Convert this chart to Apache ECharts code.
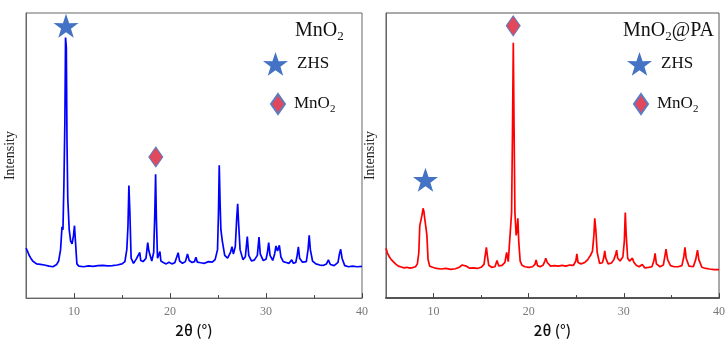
<!DOCTYPE html>
<html>
<head>
<meta charset="utf-8">
<script src="https://cdn.jsdelivr.net/npm/echarts@6/dist/echarts.min.js"></script>
<style>
html,body{margin:0;padding:0;background:#fff;}
#chart{width:728px;height:343px;}
</style>
</head>
<body>
<div id="chart"></div>
<script>
// ---- Data ----
// Left panel: MnO2 (blue)
const mno2Theta = [5.0,5.15,5.3,5.5,5.7,5.9,6.1,6.3,6.5,6.7,6.9,7.0,7.1,7.4,7.6,7.8,8.0,8.2,8.4,8.6,8.75,8.85,8.95,9.05,9.12,9.2,9.27,9.35,9.5,9.65,9.8,9.95,10.05,10.15,10.3,10.5,11.0,11.5,12.0,12.5,13.0,13.5,14.0,14.5,15.0,15.3,15.5,15.62,15.72,15.82,15.95,16.2,16.45,16.55,16.65,16.85,16.95,17.2,17.5,17.68,17.8,17.92,18.1,18.3,18.42,18.5,18.58,18.7,18.85,18.95,19.05,19.3,19.6,19.9,20.2,20.5,20.7,20.85,21.0,21.3,21.6,21.82,22.0,22.3,22.55,22.7,22.85,23.2,23.6,24.0,24.4,24.7,24.95,25.05,25.13,25.22,25.3,25.45,25.7,26.0,26.3,26.46,26.6,26.8,26.95,27.05,27.15,27.3,27.6,27.85,28.05,28.2,28.5,28.8,29.1,29.27,29.4,29.7,30.0,30.15,30.28,30.42,30.7,30.9,31.04,31.2,31.39,31.55,31.8,32.1,32.4,32.68,32.85,33.1,33.25,33.37,33.5,33.8,34.2,34.38,34.5,34.62,34.85,35.2,35.6,36.0,36.3,36.5,36.7,37.1,37.5,37.65,37.78,37.92,38.2,38.6,39.0,39.5,40.0];
const mno2Intensity = [17.5,16.5,15.2,14.0,13.0,12.4,12.0,11.5,11.8,11.2,11.6,12.3,11.4,11.2,11.6,11.0,11.4,11.8,13.0,17.0,25.0,24.0,40.0,62.0,91.4,88.0,55.0,35.0,24.0,20.0,19.0,22.0,25.4,20.0,12.0,11.2,11.0,11.3,11.1,11.4,11.5,11.3,11.4,11.6,12.0,12.8,17.0,25.0,39.5,30.0,14.0,12.2,13.5,14.2,12.8,16.0,13.2,12.8,14.0,19.5,16.5,17.0,13.0,16.0,30.0,43.4,28.0,14.0,14.5,16.3,13.0,12.5,12.0,12.6,12.0,12.4,13.0,15.9,13.0,12.2,12.8,15.5,13.2,12.5,12.8,14.3,12.6,12.4,12.2,12.8,12.6,13.5,17.0,30.0,46.6,33.0,24.0,20.0,15.0,14.0,16.0,18.0,15.5,18.0,28.0,33.1,26.0,17.0,13.5,14.5,21.6,15.0,13.0,13.4,15.0,21.4,15.5,13.2,13.6,16.0,19.5,15.0,13.2,15.5,18.3,16.5,18.5,14.5,12.8,12.5,12.2,13.4,12.2,12.5,15.0,18.0,14.0,12.6,12.8,17.0,22.0,17.0,13.0,12.0,11.6,11.5,12.0,13.4,11.8,11.4,12.5,15.5,17.1,14.0,11.4,11.0,11.2,11.0,11.1];

// Right panel: MnO2@PA (red)
const paTheta = [5.0,5.15,5.35,5.55,5.75,6.0,6.3,6.6,6.9,7.2,7.5,7.8,8.1,8.3,8.45,8.55,8.65,8.78,8.9,8.98,9.05,9.2,9.3,9.42,9.6,9.9,10.3,10.8,11.3,11.8,12.3,12.7,13.0,13.2,13.45,13.8,14.2,14.6,15.0,15.3,15.45,15.55,15.65,15.8,16.1,16.45,16.67,16.85,17.2,17.5,17.68,17.85,18.05,18.2,18.3,18.38,18.46,18.55,18.68,18.78,18.86,18.95,19.1,19.3,19.6,20.0,20.4,20.65,20.78,20.92,21.2,21.5,21.7,21.79,21.95,22.3,22.7,23.1,23.5,23.9,24.3,24.7,24.95,25.06,25.18,25.5,25.9,26.2,26.5,26.7,26.85,26.94,27.05,27.2,27.45,27.75,27.9,27.99,28.1,28.35,28.7,28.95,29.15,29.24,29.35,29.6,29.9,30.05,30.15,30.25,30.4,30.6,30.8,30.9,31.05,31.3,31.6,31.93,32.2,32.6,32.95,33.15,33.28,33.42,33.8,34.15,34.3,34.43,34.6,34.9,35.3,35.7,36.1,36.3,36.42,36.55,36.85,37.3,37.55,37.74,37.88,38.2,38.6,39.0,39.5,40.0];
const paIntensity = [17.5,15.8,14.5,13.5,12.8,12.0,11.2,10.9,10.6,10.8,10.5,10.7,11.0,12.0,16.0,25.4,26.0,29.0,31.5,30.5,28.5,28.5,22.0,13.5,11.2,10.8,10.4,10.2,10.4,10.1,10.3,10.8,11.6,12.0,11.2,10.5,10.6,10.4,10.8,11.8,15.5,17.8,15.0,11.5,10.8,11.0,13.2,11.3,11.5,12.5,16.0,12.8,13.5,30.0,60.0,89.6,60.0,30.0,22.0,24.0,28.0,20.0,13.0,11.5,11.0,10.8,11.0,11.8,13.4,11.4,11.0,11.5,13.0,14.0,12.5,11.2,11.4,11.2,11.5,11.2,11.6,11.5,13.0,15.5,12.5,12.0,12.5,13.5,15.0,16.5,22.0,28.0,24.0,16.0,12.2,12.4,14.5,16.6,14.0,12.0,12.3,13.5,15.5,16.8,14.0,13.0,14.5,20.0,30.0,22.0,14.0,13.0,13.2,14.0,12.6,11.5,11.0,11.8,10.6,10.8,11.0,13.0,15.7,12.0,11.0,11.6,14.5,17.2,13.5,11.4,11.0,11.0,11.4,14.5,17.8,14.0,11.2,11.0,13.5,16.8,13.5,10.8,10.4,10.2,10.0,10.0];

// Phase markers [2θ, intensity position]
const zhsMarkLeft = [9.17, 95.5];
const mno2MarkLeft = [18.52, 49.5];
const zhsMarkRight = [9.15, 41.5];
const mno2MarkRight = [18.37, 95.5];

// Axis ticks
const xMin = 5, xMax = 40;
const majorTicks = [10, 20, 30, 40];
const minorTicks = [15, 25, 35];

// ---- Styling ----
const starPath = 'path://M50,0 L61.8,35.1 L97.6,34.5 L68.8,56 L79.4,90.5 L50,69.8 L20.6,90.5 L31.2,56 L2.4,34.5 L38.2,35.1 Z';
const starColor = '#4472C4';
const diamondColor = '#E2485C';
const diamondBorder = '#5B7DBF';
const serif = '"Liberation Serif", "Times New Roman", serif';

const zip = (a, b) => a.map((v, i) => [v, b[i]]);

const chart = echarts.init(document.getElementById('chart'), null, {renderer: 'canvas'});

function xAxisPair(gridIndex, lineWidth, lineColor) {
  return [
    {
      type: 'value', gridIndex, min: xMin, max: xMax, interval: 5, position: 'bottom',
      name: '2θ (°)', nameLocation: 'middle', nameGap: 20,
      nameTextStyle: {fontFamily: '"Noto Sans CJK SC", sans-serif', fontSize: 15, color: '#111', fontWeight: 500},
      axisLine: {show: true, onZero: false, lineStyle: {color: lineColor, width: lineWidth}},
      axisTick: {show: true, inside: true, length: 5, customValues: majorTicks, lineStyle: {color: '#444'}},
      axisLabel: {show: true, customValues: majorTicks, margin: 8, fontFamily: serif, fontSize: 12, color: '#777',
        formatter: v => (v % 10 === 0 ? String(v) : '')},
      splitLine: {show: false}
    },
    {
      type: 'value', gridIndex, min: xMin, max: xMax, interval: 5, position: 'bottom',
      axisLine: {show: false},
      axisTick: {show: true, inside: true, length: 3, customValues: minorTicks, lineStyle: {color: '#444'}},
      axisLabel: {show: false},
      splitLine: {show: false}
    }
  ];
}

function yAxis(gridIndex) {
  return {
    type: 'value', gridIndex, min: 0, max: 100,
    name: 'Intensity', nameLocation: 'middle', nameGap: 9, nameRotate: 90,
    nameTextStyle: {fontFamily: serif, fontSize: 14, color: '#222'},
    axisLine: {show: true, lineStyle: {color: '#666'}},
    axisTick: {show: false}, axisLabel: {show: false}, splitLine: {show: false}
  };
}

const richSub = {
  n: {fontFamily: serif, fontSize: 20, color: '#111', fontWeight: 'normal'},
  s: {fontFamily: serif, fontSize: 13, color: '#111', fontWeight: 'normal', padding: [12, 0, 0, 0]}
};
const richSubLegend = {
  n: {fontFamily: serif, fontSize: 17, color: '#111', fontWeight: 'normal'},
  s: {fontFamily: serif, fontSize: 11, color: '#111', fontWeight: 'normal', padding: [10, 0, 0, 0]}
};
const legendFmt = name => (name === 'MnO2' ? '{n|MnO}{s|2}' : '{n|' + name + '}');

function legend(name, left, top, w, h) {
  return {
    data: [name], orient: 'vertical', left, top, padding: 0,
    itemWidth: w, itemHeight: h, itemGap: 0, selectedMode: false,
    formatter: legendFmt,
    textStyle: {rich: richSubLegend, padding: [0, 0, 0, 4]}
  };
}

const option = {
  backgroundColor: '#fff',
  animation: false,
  title: [
    {text: '{n|MnO}{s|2}', left: 295, top: 18, padding: 0, textStyle: {fontWeight: 'normal', rich: richSub}},
    {text: '{n|MnO}{s|2}{n|@PA}', left: 623, top: 18, padding: 0, textStyle: {fontWeight: 'normal', rich: richSub}}
  ],
  legend: [
    legend('ZHS', 263, 52, 25, 24),
    legend('MnO2', 270, 93, 14, 20),
    legend('ZHS', 627, 52, 25, 24),
    legend('MnO2', 633, 93, 14, 20)
  ],
  grid: [
    {left: 26, top: 13, width: 336, height: 291, show: true, borderColor: '#666', borderWidth: 1, backgroundColor: 'transparent'},
    {left: 386, top: 13, width: 335, height: 291, show: true, borderColor: '#555', borderWidth: 1, backgroundColor: 'transparent'}
  ],
  xAxis: [...xAxisPair(0, 1, '#666'), ...xAxisPair(1, 2, '#555')],
  yAxis: [yAxis(0), yAxis(1)],
  series: [
    {type: 'line', name: 'MnO2 pattern', xAxisIndex: 0, yAxisIndex: 0, data: zip(mno2Theta, mno2Intensity),
      showSymbol: false, lineStyle: {color: '#0000ff', width: 1.7}, itemStyle: {color: '#0000ff'}, z: 2},
    {type: 'line', name: 'MnO2@PA pattern', xAxisIndex: 2, yAxisIndex: 1, data: zip(paTheta, paIntensity),
      showSymbol: false, lineStyle: {color: '#ff0000', width: 1.7}, itemStyle: {color: '#ff0000'}, z: 2},
    {type: 'scatter', name: 'ZHS', xAxisIndex: 0, yAxisIndex: 0, data: [zhsMarkLeft],
      symbol: starPath, symbolSize: [25, 24], itemStyle: {color: starColor, opacity: 1}, z: 5},
    {type: 'scatter', name: 'MnO2', xAxisIndex: 0, yAxisIndex: 0, data: [mno2MarkLeft],
      symbol: 'diamond', symbolSize: [14, 20], itemStyle: {color: diamondColor, borderColor: diamondBorder, borderWidth: 1, opacity: 1}, z: 5},
    {type: 'scatter', name: 'ZHS', xAxisIndex: 2, yAxisIndex: 1, data: [zhsMarkRight],
      symbol: starPath, symbolSize: [25, 24], itemStyle: {color: starColor, opacity: 1}, z: 5},
    {type: 'scatter', name: 'MnO2', xAxisIndex: 2, yAxisIndex: 1, data: [mno2MarkRight],
      symbol: 'diamond', symbolSize: [14, 20], itemStyle: {color: diamondColor, borderColor: diamondBorder, borderWidth: 1, opacity: 1}, z: 5}
  ]
};
chart.setOption(option);
</script>
</body>
</html>
